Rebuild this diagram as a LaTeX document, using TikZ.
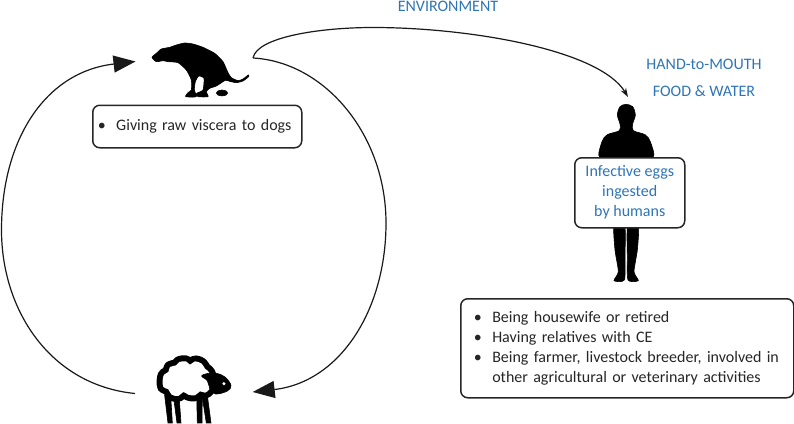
\documentclass[tikz,border=0pt]{standalone}
\usepackage{fontspec}
\setmainfont{Carlito}
\usetikzlibrary{arrows.meta}
\definecolor{txtblue}{HTML}{2E75B6}
\definecolor{txtdark}{HTML}{262626}
\begin{document}
\begin{tikzpicture}[
  x=1pt, y=-1pt,
  font=\fontsize{16}{20}\selectfont,
  box/.style={draw=black!85, line width=1.5pt, rounded corners=7pt, fill=white,
              text=txtdark, align=left, inner sep=0pt},
  lbl/.style={text=txtblue, inner sep=0pt},
  curve/.style={black!90, line width=1.2pt},
  bigarr/.style={curve, -{Triangle[length=22pt, width=17pt]}},
  smallarr/.style={curve, -{Stealth[length=9pt, width=6pt]}},
  shp/.style={fill=black, draw=black, line width=0.6pt},
]
\useasboundingbox (0,0) rectangle (794,423);

% ---------------- Dog ----------------
\begin{scope}[shift={(148,40)}, x=0.3333pt, y=-0.3333pt]
  \fill[shp] plot[smooth cycle, tension=0.35] coordinates {
    (12,52) (25,40) (40,27) (65,22) (85,15) (110,9) (135,12) (165,22) (200,40)
    (225,65) (240,98) (250,113) (270,122) (285,117) (301,105) (302,110) (285,123)
    (265,128) (245,124) (232,121) (205,138) (185,145) (175,155) (180,170) (150,170)
    (146,160) (165,150) (168,115) (152,108) (142,125) (139,150) (145,170) (113,170)
    (120,158) (130,150) (130,120) (115,90) (90,68) (60,65) (45,62) (25,65)};
  \fill[shp] (222,159) ellipse (17 and 9);
\end{scope}

% ---------------- Human ----------------
\begin{scope}[shift={(560,90)}, x=0.3333pt, y=-0.3333pt]
  \fill[shp] plot[smooth cycle, tension=0.5] coordinates {
    (198,43) (218,50) (226,75) (218,102) (220,122) (255,134) (271,155) (278,205)
    (198,215) (120,205) (126,155) (142,134) (178,122) (180,102) (172,75) (180,50)};
  \fill[shp] plot[smooth cycle, tension=0.4] coordinates {
    (162,405) (194,405) (195,500) (193,570) (162,572) (175,545) (165,480)};
  \fill[shp] plot[smooth cycle, tension=0.4] coordinates {
    (203,405) (235,405) (232,480) (222,545) (235,572) (204,570) (202,500)};
\end{scope}

% ---------------- Sheep ----------------
\begin{scope}[shift={(150,352)}, x=0.3333pt, y=-0.3333pt]
  \def\woolpath{plot[smooth cycle, tension=0.55] coordinates {
    (38,85) (42,68) (55,60) (60,45) (78,40) (88,30) (108,28) (120,38) (135,28)
    (155,35) (165,50) (180,65) (178,100) (178,112) (165,122) (150,118) (135,130)
    (115,128) (100,120) (85,132) (65,128) (55,112) (40,105)}}
  \fill[shp] (44,130) -- (62,130) -- (67,213) -- (54,213) -- cycle;
  \fill[shp] (70,130) -- (87,130) -- (93,213) -- (81,213) -- cycle;
  \fill[shp] (140,130) -- (157,130) -- (156,213) -- (142,213) -- cycle;
  \fill[shp] (156,130) -- (172,130) -- (183,213) -- (169,213) -- cycle;
  \draw[black, line width=12pt, line join=round] \woolpath;
  \fill[white] \woolpath;
  \fill[shp] plot[smooth cycle, tension=0.6] coordinates {
    (155,72) (175,64) (200,64) (225,75) (243,100) (232,117) (197,126) (180,110) (172,86)};
  \fill[white] (222,95) circle (5);
\end{scope}

% ---------------- Connector ends ----------------
\coordinate (dogR)    at (253,58);
\coordinate (dogL)    at (135.5,61.5);
\coordinate (sheepL)  at (135,393.5);
\coordinate (sheepR)  at (252.7,392);
\coordinate (humanT)  at (628,97);
\coordinate (leftmid) at (1.5,230);
\coordinate (rightmid) at (386,223);
\coordinate (envtop)  at (373,27.5);

\draw[bigarr] (sheepL) .. controls (50,385) and (1.5,310) .. (leftmid)
  .. controls (1.5,140) and (45,72) .. (dogL);
\draw[bigarr] (dogR) .. controls (325,62) and (386,135) .. (rightmid)
  .. controls (386,310) and (340,382) .. (sheepR);
\draw[smallarr] (dogR) .. controls (257,37) and (320,27.5) .. (envtop)
  .. controls (470,27.5) and (600,50) .. (humanT);

% ---------------- Boxes ----------------
\node[box, anchor=north west, minimum width=209pt, minimum height=42.5pt,
      text width=209pt-10pt, inner xsep=5pt] (dogbox) at (92,104.5)
  {\begin{tabular}{@{}p{18.5pt}@{}l@{}}•&Giving raw viscera to dogs\end{tabular}};
\node[box, anchor=north west, minimum width=110pt, minimum height=70pt,
      text=txtblue, align=center] (eggbox) at (574,157)
  {Infective eggs\\ingested\\by humans};
\node[box, anchor=north west, minimum width=333pt, minimum height=99pt,
      text width=333pt-26pt, inner xsep=13pt] (riskbox) at (460,298)
  {\begin{tabular}{@{}p{18.5pt}@{}l@{}}
   •&Being housewife or retired\\
   •&Having relatives with CE\\
   •&Being farmer, livestock breeder, involved in\\
   &other agricultural or veterinary activities
   \end{tabular}};

% ---------------- Route labels ----------------
\node[lbl] (envlbl)  at (448,6)  {ENVIRONMENT};
\node[lbl] (handlbl) at (704,64) {HAND-to-MOUTH};
\node[lbl] (foodlbl) at (704,91) {FOOD \& WATER};

\end{tikzpicture}
\end{document}
